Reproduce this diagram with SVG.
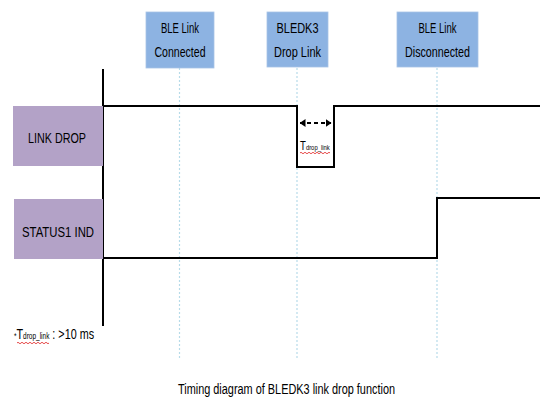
<svg xmlns="http://www.w3.org/2000/svg" width="544" height="408" viewBox="0 0 544 408">
<defs>
<style>
.t{font-family:"Liberation Sans",Arial,sans-serif;fill:#000;}
.ev{fill:#8DB3E2;stroke:#a9c4e6;stroke-width:0.8;}
.sig{fill:#B3A2C7;}
.guide{stroke:#b7dbe9;stroke-width:1.2;stroke-dasharray:2 2;fill:none;}
.wave{stroke:#000;stroke-width:2;fill:none;}
.sq{stroke:#e02020;stroke-width:0.8;fill:none;}
</style>
<marker id="ah" markerWidth="6" markerHeight="8" refX="5.5" refY="4" orient="auto-start-reverse" markerUnits="userSpaceOnUse">
<path d="M0,0 L6,4 L0,8 Z" fill="#000"/>
</marker>
</defs>
<rect width="544" height="408" fill="#fff"/>
<g id="connectors">
<line class="guide" x1="179.5" y1="68" x2="179.5" y2="359"/>
<line class="guide" x1="297" y1="68" x2="297" y2="359"/>
<line class="guide" x1="437" y1="68" x2="437" y2="359"/>
<line x1="103" y1="69" x2="103" y2="326" stroke="#000" stroke-width="2"/>
<path class="wave" d="M103,106 H297 V167 H334 V106 H540"/>
<path class="wave" d="M103,258 H437 V198 H540"/>
<line x1="300" y1="123" x2="331" y2="123" stroke="#000" stroke-width="2" stroke-dasharray="4 3" marker-start="url(#ah)" marker-end="url(#ah)"/>
</g>
<g id="ev-connected">
<rect class="ev" x="146" y="12" width="68" height="56"/>
<text class="t" x="180" y="33" font-size="15" text-anchor="middle" textLength="38" lengthAdjust="spacingAndGlyphs">BLE Link</text>
<text class="t" x="180" y="57" font-size="15" text-anchor="middle" textLength="51" lengthAdjust="spacingAndGlyphs">Connected</text>
</g>
<g id="ev-drop">
<rect class="ev" x="267" y="12" width="61" height="55"/>
<text class="t" x="297.5" y="33" font-size="15" text-anchor="middle" textLength="42" lengthAdjust="spacingAndGlyphs">BLEDK3</text>
<text class="t" x="297.5" y="57" font-size="15" text-anchor="middle" textLength="47" lengthAdjust="spacingAndGlyphs">Drop Link</text>
</g>
<g id="ev-disconnected">
<rect class="ev" x="397" y="12" width="81" height="55"/>
<text class="t" x="437.5" y="33" font-size="15" text-anchor="middle" textLength="38" lengthAdjust="spacingAndGlyphs">BLE Link</text>
<text class="t" x="437.5" y="57" font-size="15" text-anchor="middle" textLength="65" lengthAdjust="spacingAndGlyphs">Disconnected</text>
</g>
<g id="sig-linkdrop">
<rect class="sig" x="13" y="106" width="90" height="60"/>
<text class="t" x="57" y="143" font-size="14" text-anchor="middle" textLength="58" lengthAdjust="spacingAndGlyphs">LINK DROP</text>
</g>
<g id="sig-status">
<rect class="sig" x="14" y="199" width="89" height="60"/>
<text class="t" x="58" y="237" font-size="14" text-anchor="middle" textLength="72" lengthAdjust="spacingAndGlyphs">STATUS1  IND</text>
</g>
<g id="tdrop-label">
<text class="t" transform="translate(300,150) scale(0.74,1)" font-size="13">T<tspan font-size="8">drop_link</tspan></text>
<path class="sq" d="M300,153 q1,-1.5 2,0 t2,0 t2,0 t2,0 t2,0 t2,0 t2,0 t2,0 t2,0 t2,0 t2,0 t2,0 t2,0 t2,0 t2,0"/>
</g>
<g id="footnote">
<text class="t" transform="translate(14,339) scale(0.72,1)" font-size="15"><tspan font-size="9">*</tspan>T<tspan font-size="9">drop_link</tspan> : &gt;10 ms</text>
<path class="sq" d="M17,343 q1,-1.5 2,0 t2,0 t2,0 t2,0 t2,0 t2,0 t2,0 t2,0 t2,0 t2,0 t2,0 t2,0 t2,0 t2,0 t2,0 t2,0"/>
</g>
<g id="caption">
<text class="t" x="178" y="394" font-size="14" textLength="217" lengthAdjust="spacingAndGlyphs">Timing diagram of BLEDK3 link drop function</text>
</g>
</svg>
